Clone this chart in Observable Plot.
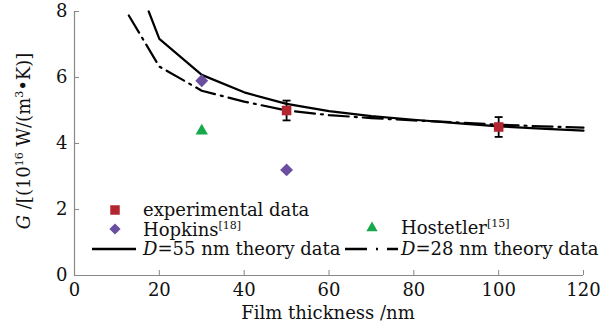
<!DOCTYPE html>
<html>
<head>
<meta charset="utf-8">
<script src="https://cdn.jsdelivr.net/npm/d3@7"></script>
<script src="https://cdn.jsdelivr.net/npm/@observablehq/plot@0.6"></script>
<style>
  html, body { margin: 0; padding: 0; background: #fff; }
  #chart { width: 615px; height: 326px; }
</style>
</head>
<body>
<div id="chart"></div>
<script>
// ---- data ----
const xTicks = [0, 20, 40, 60, 80, 100, 120];
const yTicks = [0, 2, 4, 6, 8];

const expX = [50, 100];
const expY = [5.0, 4.5];
const expErr = [0.3, 0.3];

const hopkinsX = [30, 50];
const hopkinsY = [5.9, 3.2];

const hostetlerX = [30];
const hostetlerY = [4.38];

const d55X = [17.5, 20, 30, 40, 50, 60, 70, 80, 90, 100, 110, 120];
const d55Y = [8.0, 7.17, 6.08, 5.55, 5.2, 4.98, 4.83, 4.72, 4.62, 4.52, 4.45, 4.39];

const d28X = [12.8, 20, 30, 40, 50, 60, 70, 80, 90, 100, 110, 120];
const d28Y = [7.88, 6.33, 5.6, 5.27, 5.0, 4.86, 4.77, 4.7, 4.64, 4.57, 4.52, 4.48];

// ---- tables ----
const zip = (xs, ys) => xs.map((x, i) => ({x, y: ys[i]}));
const expData = expX.map((x, i) => ({x, y: expY[i], lo: expY[i] - expErr[i], hi: expY[i] + expErr[i]}));
const expCaps = expData.flatMap(d => [{x: d.x, y: d.lo}, {x: d.x, y: d.hi}]);
const hopData = zip(hopkinsX, hopkinsY);
const hosData = zip(hostetlerX, hostetlerY);
const d55 = zip(d55X, d55Y);
const d28 = zip(d28X, d28Y);

const RED = "#b3262f", PURPLE = "#6a4ea0", GREEN = "#17a84b";
const DASHDOT = "20,6,2,6";
const FONT = "DejaVu Serif";

const capSymbol = {
  draw(ctx, size) {
    const w = Math.sqrt(size);
    ctx.moveTo(-w / 2, 0);
    ctx.lineTo(w / 2, 0);
  }
};

const svg = Plot.plot({
  width: 615,
  height: 326,
  marginLeft: 74,
  marginRight: 32,
  marginTop: 11,
  marginBottom: 51,
  style: {fontFamily: FONT, fontSize: "18px", background: "#fff", color: "#111"},
  x: {domain: [0, 120]},
  y: {domain: [0, 8]},
  marks: [
    Plot.axisX({ticks: xTicks, tickSize: -5, tickPadding: 13, stroke: "#888", label: null, fontSize: 18}),
    Plot.axisY({ticks: yTicks, tickSize: -5, tickPadding: 12, stroke: "#888", label: null, fontSize: 18}),
    Plot.ruleX([0], {stroke: "#888", strokeWidth: 1.2}),
    Plot.ruleY([0], {stroke: "#888", strokeWidth: 1.2}),
    Plot.line(d55, {x: "x", y: "y", stroke: "#000", strokeWidth: 2.2}),
    Plot.line(d28, {x: "x", y: "y", stroke: "#000", strokeWidth: 2.2, strokeDasharray: DASHDOT}),
    Plot.ruleX(expData, {x: "x", y1: "lo", y2: "hi", stroke: "#000", strokeWidth: 1.8}),
    Plot.dot(expCaps, {x: "x", y: "y", symbol: capSymbol, r: 4.5, stroke: "#000", strokeWidth: 1.8, fill: "none"}),
    Plot.dot(expData, {x: "x", y: "y", symbol: "square", r: 5.4, fill: RED, stroke: "none"}),
    Plot.dot(hopData, {x: "x", y: "y", symbol: "diamond2", r: 5.8, fill: PURPLE, stroke: "none"}),
    Plot.dot(hosData, {x: "x", y: "y", symbol: "triangle", r: 4.6, fill: GREEN, stroke: "none"})
  ]
});

document.getElementById("chart").appendChild(svg);

// ---- titles and legend (overlaid in the SVG) ----
const s = d3.select(svg);
const g = s.append("g").attr("font-family", FONT).attr("fill", "#111").attr("text-anchor", "start");

function richText(parent, x, y, parts, opts = {}) {
  const t = parent.append("text").attr("x", x).attr("y", y).attr("font-size", opts.size || 18)
    .attr("text-anchor", opts.anchor || "start");
  if (opts.transform) t.attr("transform", opts.transform);
  let shift = 0;
  for (const p of parts) {
    const sp = t.append("tspan").text(p.t);
    let target = 0;
    if (p.sup) { sp.attr("font-size", 11); target = -7; }
    if (target !== shift) { sp.attr("dy", target - shift); shift = target; }
    if (p.i) sp.attr("font-style", "italic");
  }
  return t;
}

// x title
richText(g, 328, 319, [{t: "Film thickness /nm"}], {anchor: "middle"});
// y title
richText(g, 0, 0, [
  {t: "G", i: true}, {t: " /[(10"}, {t: "16", sup: true}, {t: " W/(m"}, {t: "3", sup: true}, {t: "•K)]"}
], {anchor: "middle", transform: "translate(30,141) rotate(-90)"});

// legend
const sym = (type, size) => d3.symbol(type, size)();
g.append("path").attr("d", sym(d3.symbolSquare, 90)).attr("transform", "translate(115,210)").attr("fill", RED);
richText(g, 143, 216, [{t: "experimental data"}]);

g.append("path").attr("d", sym(d3.symbolDiamond2, 80)).attr("transform", "translate(115,229)").attr("fill", PURPLE);
richText(g, 143, 236, [{t: "Hopkins"}, {t: "[18]", sup: true}]);

g.append("path").attr("d", sym(d3.symbolTriangle, 55)).attr("transform", "translate(372,228)").attr("fill", GREEN);
richText(g, 401, 234, [{t: "Hostetler"}, {t: "[15]", sup: true}]);

g.append("line").attr("x1", 92).attr("x2", 136).attr("y1", 249).attr("y2", 249)
  .attr("stroke", "#000").attr("stroke-width", 2.4);
richText(g, 143, 255, [{t: "D", i: true}, {t: "=55 nm theory data"}]);

g.append("line").attr("x1", 345).attr("x2", 398).attr("y1", 249).attr("y2", 249)
  .attr("stroke", "#000").attr("stroke-width", 2.4).attr("stroke-dasharray", "22,9,2,9");
richText(g, 401, 255, [{t: "D", i: true}, {t: "=28 nm theory data"}]);
</script>
</body>
</html>
